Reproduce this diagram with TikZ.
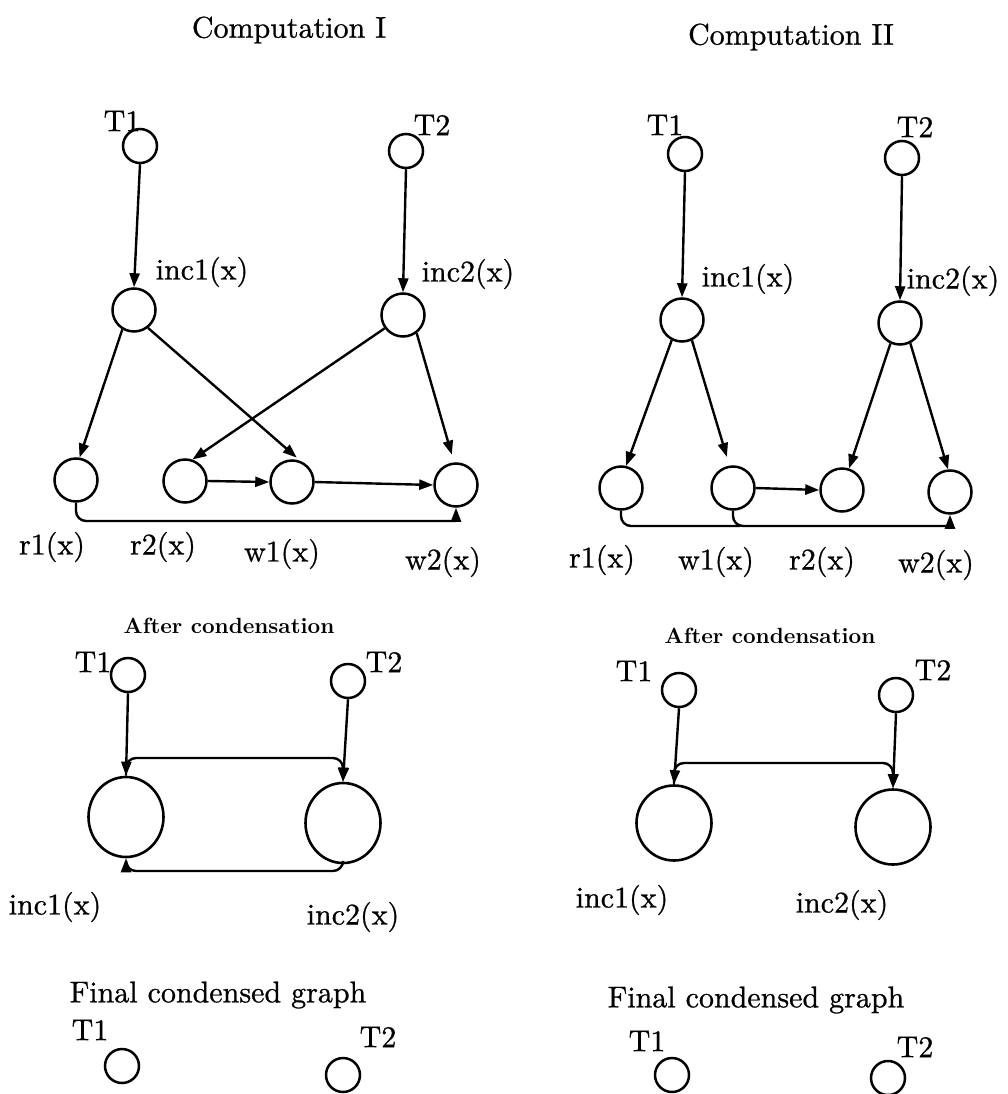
\documentclass[tikz,border=0pt]{standalone}
\usepackage{fontspec}
\newfontfamily\lmten{lmroman10-regular.otf}[FakeBold=0.8]
\newfontfamily\lmbld{lmroman10-bold.otf}
\usetikzlibrary{arrows.meta,shapes.geometric}
\begin{document}
\begin{tikzpicture}[x=1pt,y=-1pt,
  tcirc/.style={circle,draw,line width=2.5pt,minimum size=34pt,inner sep=0pt},
  mcirc/.style={circle,draw,line width=2.5pt,minimum size=43pt,inner sep=0pt},
  bcirc/.style={circle,draw,line width=2.6pt,minimum size=75pt,inner sep=0pt},
  bell/.style={ellipse,draw,line width=2.6pt,minimum width=75pt,minimum height=80pt,inner sep=0pt},
  lbl/.style={inner sep=0pt,font=\lmten\fontsize{30}{36}\selectfont},
  cond/.style={inner sep=0pt,font=\lmbld\fontsize{22}{26}\selectfont},
  conn/.style={line width=2.4pt},
  arr/.style={line width=2.4pt,-{Triangle[length=14pt,width=10pt]}}]
\useasboundingbox (0,0) rectangle (1008,1094);

% ---------- Computation I ----------
\node[lbl] (h1) at (289,30) {Computation I};
\node[tcirc] (T1a) at (140,146) {};
\node[lbl] (lT1a) at (122,121) {T1};
\node[tcirc] (T2a) at (406,151) {};
\node[lbl] (lT2a) at (432,125) {T2};
\node[mcirc] (I1a) at (134,310) {};
\node[lbl] (lI1a) at (202,272) {inc1(x)};
\node[mcirc] (I2a) at (403,315) {};
\node[lbl] (lI2a) at (468,274) {inc2(x)};
\node[mcirc] (R1a) at (76,480) {};
\node[mcirc] (R2a) at (185,481) {};
\node[mcirc] (W1a) at (292,482) {};
\node[mcirc] (W2a) at (456,485) {};
\node[lbl] (lR1a) at (52,547) {r1(x)};
\node[lbl] (lR2a) at (163,547) {r2(x)};
\node[lbl] (lW1a) at (282,554) {w1(x)};
\node[lbl] (lW2a) at (443,562) {w2(x)};
\coordinate (ca) at (456,521);

\draw[arr] (T1a.south) -- (I1a.north);
\draw[arr] (T2a.south) -- (I2a.north);
\draw[arr] (I1a.239) -- (R1a.81);
\draw[arr,shorten >=5pt] (I1a.308) -- (W1a.68);
\draw[arr] (I2a.216) -- (R2a.71);
\draw[arr,shorten >=8pt] (I2a.307) -- (W2a.95);
\draw[arr] (R2a.east) -- (W1a.west);
\draw[arr] (W1a.east) -- (W2a.west);
\draw[conn,rounded corners=10pt] (R1a.south) |- (ca);
\draw[arr] (ca) -- (W2a.south);

% ---------- Computation II ----------
\node[lbl] (h2) at (791,37) {Computation II};
\node[tcirc] (T1b) at (685,154) {};
\node[lbl] (lT1b) at (665,125) {T1};
\node[tcirc] (T2b) at (902,158) {};
\node[lbl] (lT2b) at (915,127) {T2};
\node[mcirc] (I1b) at (682,320) {};
\node[lbl] (lI1b) at (748,279) {inc1(x)};
\node[mcirc] (I2b) at (900,323) {};
\node[lbl] (lI2b) at (953,281) {inc2(x)};
\node[mcirc] (R1b) at (621,488) {};
\node[mcirc] (W1b) at (733,488) {};
\node[mcirc] (R2b) at (842,490) {};
\node[mcirc] (W2b) at (950,492) {};
\node[lbl] (lR1b) at (602,560) {r1(x)};
\node[lbl] (lW1b) at (716,562) {w1(x)};
\node[lbl] (lR2b) at (822,562) {r2(x)};
\node[lbl] (lW2b) at (936,565) {w2(x)};
\coordinate (cj) at (740,526);
\coordinate (cb) at (950,526);

\draw[arr] (T1b.south) -- (I1b.north);
\draw[arr] (T2b.south) -- (I2b.north);
\draw[arr] (I1b.243) -- (R1b.77);
\draw[arr,shorten >=9pt] (I1b.296) -- (W1b.99);
\draw[arr] (I2b.245) -- (R2b.72);
\draw[arr] (I2b.297) -- (W2b.95);
\draw[arr] (W1b.east) -- (R2b.west);
\draw[conn,rounded corners=10pt] (R1b.south) |- (cj);
\draw[conn,rounded corners=10pt] (W1b.south) |- (cb);
\draw[arr] (cb) -- (W2b.south);

% ---------- After condensation (I) ----------
\node[cond] (ac1) at (229,626) {After condensation};
\node[tcirc] (T1c) at (128,675) {};
\node[lbl] (lT1c) at (93,662) {T1};
\node[tcirc] (T2c) at (348,681) {};
\node[lbl] (lT2c) at (384,662) {T2};
\node[bell] (B1c) at (126,817) {};
\node[bell] (B2c) at (343,823) {};
\node[lbl] (lB1c) at (55,907) {inc1(x)};
\node[lbl] (lB2c) at (353,917) {inc2(x)};
\coordinate (tc) at (343,758);
\coordinate (bc) at (343,871);

\draw[arr] (T1c.south) -- (B1c.north);
\draw[arr] (T2c.south) -- (B2c.north);
\draw[arr,rounded corners=10pt] (B1c.north) |- (tc) -- (B2c.north);
\draw[arr,rounded corners=10pt] (B2c.south) -- (bc) -| (B1c.south);

% ---------- After condensation (II) ----------
\node[cond] (ac2) at (770,636) {After condensation};
\node[tcirc] (T1d) at (679,690) {};
\node[lbl] (lT1d) at (634,671) {T1};
\node[tcirc] (T2d) at (896,695) {};
\node[lbl] (lT2d) at (933,670) {T2};
\node[bcirc] (B1d) at (674,823) {};
\node[bcirc] (B2d) at (893,827) {};
\node[lbl] (lB1d) at (622,900) {inc1(x)};
\node[lbl] (lB2d) at (842,905) {inc2(x)};
\coordinate (td) at (893,763);

\draw[arr] (T1d.south) -- (B1d.north);
\draw[arr] (T2d.south) -- (B2d.north);
\draw[arr,rounded corners=10pt] (B1d.north) |- (td) -- (B2d.north);

% ---------- Final condensed graphs ----------
\node[lbl] (f1) at (218,995) {Final condensed graph};
\node[tcirc] (T1e) at (122,1066) {};
\node[lbl] (lT1e) at (90,1030) {T1};
\node[tcirc] (T2e) at (343,1075) {};
\node[lbl] (lT2e) at (378,1037) {T2};

\node[lbl] (f2) at (756,1000) {Final condensed graph};
\node[tcirc] (T1f) at (672,1075) {};
\node[lbl] (lT1f) at (647,1041) {T1};
\node[tcirc] (T2f) at (888,1078) {};
\node[lbl] (lT2f) at (915,1047) {T2};
\end{tikzpicture}
\end{document}
